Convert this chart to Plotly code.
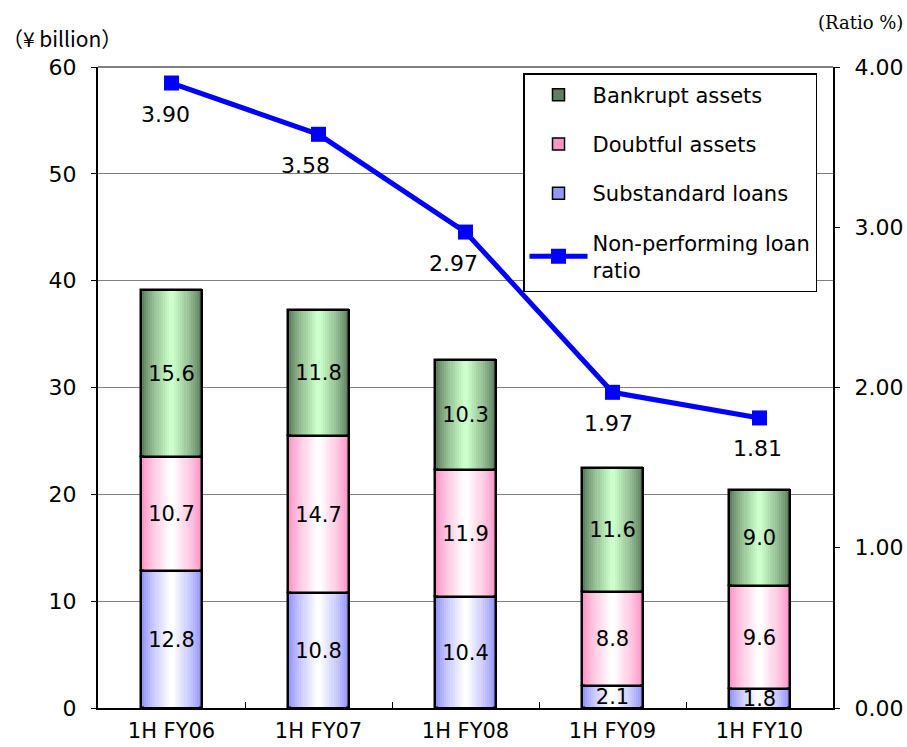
import plotly.graph_objects as go

# Half-year periods
categories = ["1H FY06", "1H FY07", "1H FY08", "1H FY09", "1H FY10"]

# Disclosed claims (¥ billion), stacked bottom to top
substandard = [12.8, 10.8, 10.4, 2.1, 1.8]
doubtful = [10.7, 14.7, 11.9, 8.8, 9.6]
bankrupt = [15.6, 11.8, 10.3, 11.6, 9.0]

# Non-performing loan ratio (%)
npl_ratio = [3.90, 3.58, 2.97, 1.97, 1.81]

FONT = "DejaVu Sans"
BAR_W = 0.41
STEPS = 14


def mix(c1, c2, t):
    return "rgb({},{},{})".format(*[round(a + (b - a) * t) for a, b in zip(c1, c2)])


series = [
    # name, values, base values, edge colour, centre colour
    ("Bankrupt assets", bankrupt,
     [s + d for s, d in zip(substandard, doubtful)], (95, 128, 95), (204, 255, 204)),
    ("Doubtful assets", doubtful, substandard, (255, 150, 200), (255, 255, 255)),
    ("Substandard loans", substandard, [0] * 5, (150, 150, 255), (255, 255, 255)),
]

fig = go.Figure()

# Each segment is built from nested bars of shrinking width so the fill
# fades from the edges to the centre.
for rank, (name, vals, base, edge, centre) in enumerate(series, start=1):
    for i in range(STEPS):
        t = (i / (STEPS - 1)) ** 0.8
        fig.add_trace(go.Bar(
            x=categories, y=vals, base=base,
            width=BAR_W * (1 - i / STEPS),
            marker=dict(color=mix(edge, centre, t),
                        line=dict(width=1.5 if i == 0 else 0, color="black")),
            name=name, legendgroup=name, legendrank=rank,
            showlegend=(i == 0), hoverinfo="skip",
        ))

# Outlines and value labels on top of the shaded segments
for name, vals, base, edge, centre in series:
    fig.add_trace(go.Bar(
        x=categories, y=vals, base=base, width=BAR_W,
        marker=dict(color="rgba(0,0,0,0)", line=dict(width=2, color="black")),
        text=[f"{v:.1f}" for v in vals], textposition="inside",
        insidetextanchor="middle", textangle=0,
        textfont=dict(family=FONT, size=21, color="black"),
        legendgroup=name, showlegend=False, cliponaxis=False,
    ))

fig.add_trace(go.Scatter(
    x=categories, y=npl_ratio, yaxis="y2", mode="lines+markers",
    name="Non-performing loan<br>ratio", legendgroup="npl", legendrank=4,
    line=dict(color="#0000ff", width=5),
    marker=dict(symbol="square", size=15, color="#0000ff"),
))

label_shift = [-6, -13, -12, -4, -2]
for c, v, dx in zip(categories, npl_ratio, label_shift):
    fig.add_annotation(x=c, y=v, yref="y2", text=f"{v:.2f}", showarrow=False,
                       xshift=dx, yshift=-31,
                       font=dict(family=FONT, size=22, color="black"))

fig.add_annotation(xref="paper", yref="paper", x=(0 - 98) / 735, y=(708 - 38) / 641,
                   xanchor="left", yanchor="middle", showarrow=False,
                   text="（¥ billion）",
                   font=dict(family="Noto Sans CJK JP", size=21, color="black"))
fig.add_annotation(xref="paper", yref="paper", x=(905 - 98) / 735, y=(708 - 22) / 641,
                   xanchor="right", yanchor="middle", showarrow=False,
                   text="(Ratio %)", font=dict(family="DejaVu Serif", size=18, color="black"))

fig.update_layout(
    width=907, height=747, autosize=False,
    margin=dict(l=98, r=74, t=67, b=39),
    barmode="overlay", bargap=0,
    plot_bgcolor="white", paper_bgcolor="white",
    font=dict(family=FONT, color="black", size=21),
    uniformtext=dict(minsize=21, mode="show"),
    xaxis=dict(
        showline=True, linecolor="black", linewidth=2,
        ticks="inside", tickson="boundaries", ticklen=6, tickcolor="black",
        tickfont=dict(family=FONT, size=21), showgrid=False,
        automargin=False, ticklabelstandoff=3,
    ),
    yaxis=dict(
        range=[0, 60], dtick=10, showline=True, linecolor="black", linewidth=2,
        ticks="outside", ticklen=5, tickcolor="black",
        showgrid=True, gridcolor="#808080", gridwidth=1,
        tickfont=dict(family=FONT, size=22), zeroline=False,
        automargin=False, ticklabelstandoff=10,
    ),
    yaxis2=dict(
        range=[0, 4], dtick=1, tickformat=".2f", overlaying="y", side="right",
        showline=True, linecolor="black", linewidth=2,
        ticks="outside", ticklen=5, tickcolor="black", showgrid=False,
        tickfont=dict(family=FONT, size=22), zeroline=False,
        automargin=False, ticklabelstandoff=10,
    ),
    legend=dict(
        x=(523 - 98) / 735, y=(708 - 73) / 641, xanchor="left", yanchor="top",
        bgcolor="white", bordercolor="black", borderwidth=1.5,
        traceorder="grouped", tracegroupgap=19, itemwidth=58,
        font=dict(family=FONT, size=21),
    ),
    showlegend=True,
)

# Top edge of the plot area
fig.add_shape(type="line", xref="paper", yref="paper", x0=0, x1=1, y0=1, y1=1,
              line=dict(color="#808080", width=2), layer="below")

fig.write_html("out.html")
